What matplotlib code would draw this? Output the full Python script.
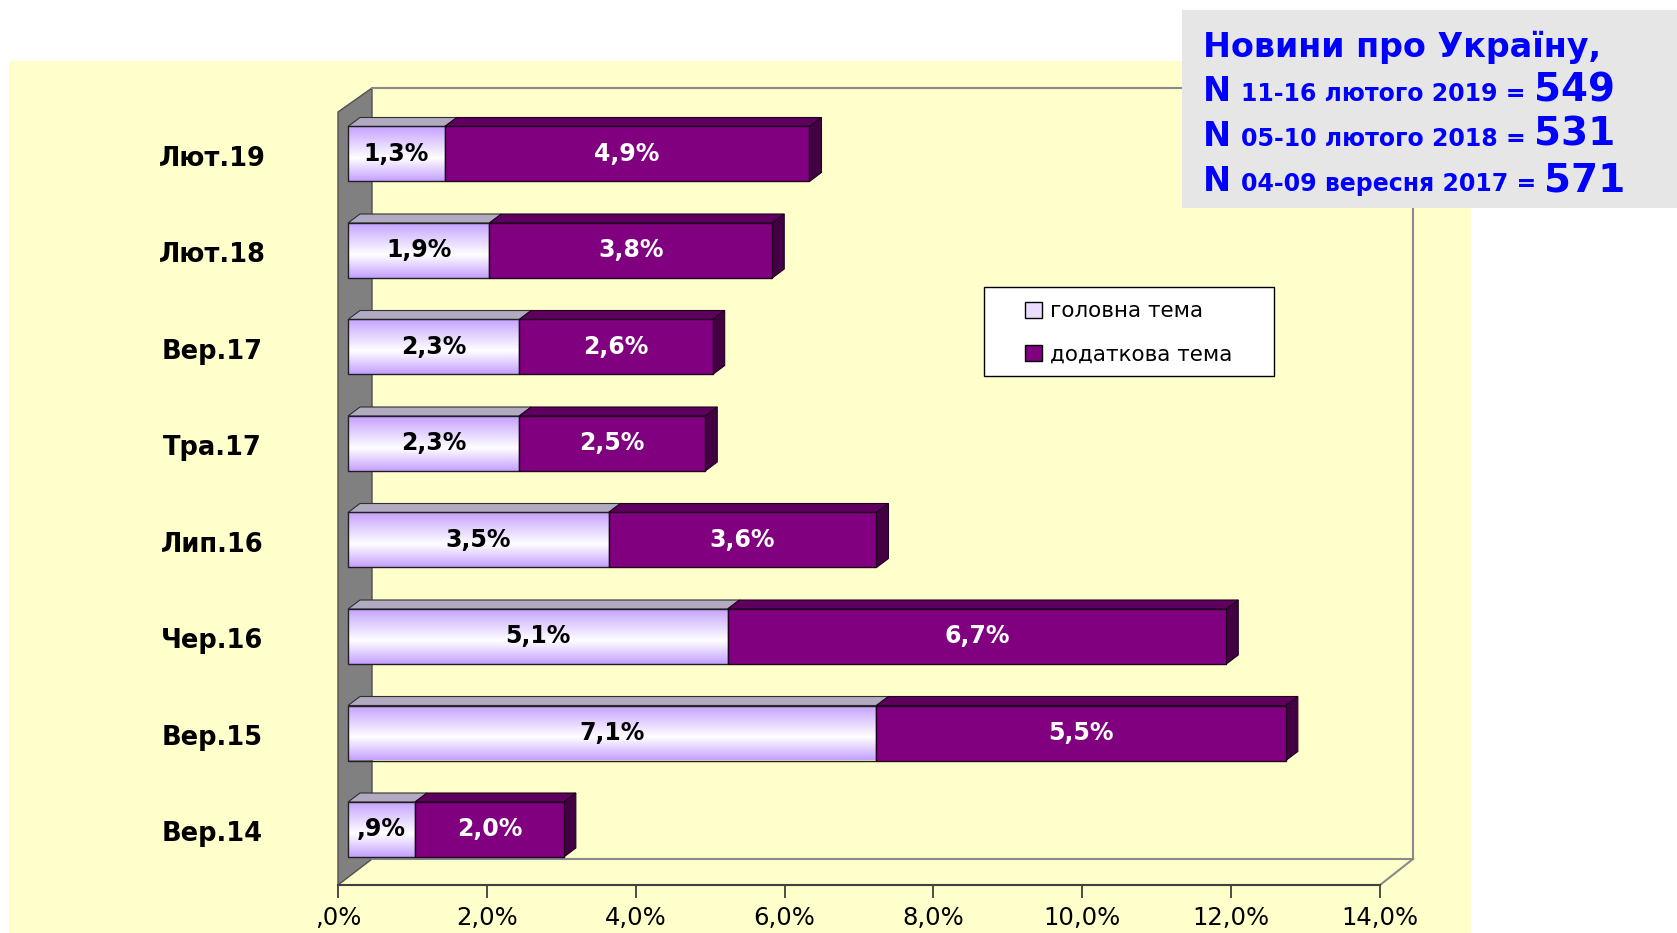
import numpy as np
import matplotlib
matplotlib.use('Agg')
import matplotlib.pyplot as plt
from matplotlib import transforms
from matplotlib.patches import Rectangle, Polygon, Patch
from matplotlib.colors import LinearSegmentedColormap

categories = ['Лют.19', 'Лют.18', 'Вер.17', 'Тра.17', 'Лип.16', 'Чер.16', 'Вер.15', 'Вер.14']
main_topic = [1.3, 1.9, 2.3, 2.3, 3.5, 5.1, 7.1, 0.9]
extra_topic = [4.9, 3.8, 2.6, 2.5, 3.6, 6.7, 5.5, 2.0]
x_ticks = [0, 2, 4, 6, 8, 10, 12, 14]
legend_labels = ['головна тема', 'додаткова тема']
title = 'Новини про Україну,'
samples = [('11-16 лютого 2019 =', '549'),
           ('05-10 лютого 2018 =', '531'),
           ('04-09 вересня 2017 =', '571')]

W, H = 1677, 933
PURPLE, PURPLE_TOP, PURPLE_SIDE = '#800080', '#5E005E', '#420042'
LAV, LAV_TOP = '#C4A0FF', '#B2AAC0'
BLUE = '#0000FF'


def pct(v):
    s = f'{v:.1f}'.replace('.', ',')
    if s.startswith('0'):
        s = s[1:]
    return s + '%'


fig = plt.figure(figsize=(W / 100, H / 100), dpi=100)

# yellow chart area
fig.add_artist(Rectangle((9 / W, 0), 1462 / W, 872 / H, transform=fig.transFigure,
                         facecolor='#FFFFCC', edgecolor='none', zorder=0))

# axes: x in %, y = category slot (top row highest)
px_x, px_y = 74.43, 96.5
ax = fig.add_axes([338 / W, 48 / H, 1075 / W, 797 / H])
ax.patch.set_visible(False)
xmax = 1075 / px_x
ylo, yhi = -55.5 / px_y, (829.5 - 88) / px_y
n = len(categories)
ypos = np.arange(n)[::-1]

# 3d box: wall, floor, back edges
wdx, wdy_top, wdy_bot = 34 / px_x, 24 / px_y, 26 / px_y
ax.add_patch(Polygon([(0, ylo), (0, yhi - wdy_top), (wdx, yhi), (wdx, ylo + wdy_bot)],
                     closed=True, facecolor='#808080', edgecolor='#505050', lw=1, zorder=1,
                     clip_on=False))
edge_kw = dict(color='#8A8A8A', lw=1.5, clip_on=False, zorder=1)
ax.plot([wdx, xmax, xmax], [yhi, yhi, ylo + wdy_bot], **edge_kw)
ax.plot([wdx, xmax], [ylo + wdy_bot, ylo + wdy_bot], **edge_kw)
ax.plot([x_ticks[-1], xmax], [ylo, ylo + wdy_bot], **edge_kw)
ax.plot([0, x_ticks[-1]], [ylo, ylo], color='#404040', lw=1.5, clip_on=False, zorder=2)

# bars
bar_tr = transforms.offset_copy(ax.transData, fig=fig, x=10, y=0, units='dots')
h = 55 / px_y
ddx, ddy = 12 / px_x, 9 / px_y
grad = np.linspace(0, 1, 200).reshape(-1, 1)
cmap = LinearSegmentedColormap.from_list('lav', [(0, LAV), (0.42, '#FFFFFF'), (1, LAV)])

for y, a, b in zip(ypos, main_topic, extra_topic):
    ax.imshow(grad, cmap=cmap, extent=[0, a, y - h / 2, y + h / 2], origin='lower',
              aspect='auto', transform=bar_tr, zorder=3, interpolation='bilinear')
    top = y + h / 2
    ax.add_patch(Polygon([(0, top), (a, top), (a + ddx, top + ddy), (ddx, top + ddy)],
                         facecolor=LAV_TOP, edgecolor='#303030', lw=0.8, transform=bar_tr, zorder=3))
    ax.add_patch(Polygon([(a, top), (a + b, top), (a + b + ddx, top + ddy), (a + ddx, top + ddy)],
                         facecolor=PURPLE_TOP, edgecolor='#200020', lw=0.8, transform=bar_tr, zorder=3))
    end = a + b
    ax.add_patch(Polygon([(end, y - h / 2), (end + ddx, y - h / 2 + ddy), (end + ddx, top + ddy), (end, top)],
                         facecolor=PURPLE_SIDE, edgecolor='#200020', lw=0.8, transform=bar_tr, zorder=3))

ax.barh(ypos, main_topic, height=h, color='none', edgecolor='#202020', lw=1,
        transform=bar_tr, zorder=4)
ax.barh(ypos, extra_topic, left=main_topic, height=h, color=PURPLE, edgecolor='#200020', lw=1,
        transform=bar_tr, zorder=4)

for y, a, b in zip(ypos, main_topic, extra_topic):
    ax.text(a / 2, y, pct(a), ha='center', va='center', fontsize=17, fontweight='bold',
            color='black', transform=bar_tr, zorder=5)
    ax.text(a + b / 2, y, pct(b), ha='center', va='center', fontsize=17, fontweight='bold',
            color='white', transform=bar_tr, zorder=5)

# category labels
lab_tr = transforms.blended_transform_factory(fig.transFigure, ax.transData)
for y, c in zip(ypos, categories):
    ax.text(212 / W, y - 0.05, c, ha='center', va='center', fontsize=18.5, fontweight='bold',
            transform=lab_tr)

ax.set_xlim(0, xmax)
ax.set_ylim(ylo, yhi)
for s in ax.spines.values():
    s.set_visible(False)
ax.set_yticks([])
ax.set_xticks(x_ticks, labels=[pct(t) for t in x_ticks])
ax.tick_params(axis='x', direction='out', length=9, width=1.3, color='#404040',
               labelsize=17.5, pad=6)
for lab in ax.get_xticklabels():
    lab.set_family(['DejaVu Sans Condensed', 'DejaVu Sans'])

# legend
fig.add_artist(Rectangle((984 / W, 1 - 376 / H), 290 / W, 89 / H, transform=fig.transFigure,
                         facecolor='white', edgecolor='black', lw=1, zorder=5))
handles = [Patch(facecolor='#EADCFF', edgecolor='black'),
           Patch(facecolor=PURPLE, edgecolor='black')]
leg = fig.legend(handles, legend_labels, loc='center', bbox_to_anchor=(1129 / W, 1 - 333 / H),
                 frameon=False, fontsize=15.5, handlelength=0.75, handleheight=0.75,
                 handletextpad=0.4, labelspacing=1.1)
leg.set_zorder(6)

# title box
fig.add_artist(Rectangle((1182 / W, 1 - 208 / H), 495 / W, 198 / H, transform=fig.transFigure,
                         facecolor='#E6E6E6', edgecolor='none', zorder=7))
renderer = fig.canvas.get_renderer()


def put(px, py, s, size):
    t = fig.text(px / W, 1 - py / H, s, fontsize=size, fontweight='bold', color=BLUE,
                 va='baseline', ha='left', zorder=8)
    return px + t.get_window_extent(renderer).width


put(1203, 57, title, 24)
for (period, num), base in zip(samples, [101, 146, 191]):
    x = put(1203, base, 'N', 24)
    x = put(x + 10, base, period, 17)
    put(x + 8, base, num, 28)

fig.savefig('out.png', dpi=100)
